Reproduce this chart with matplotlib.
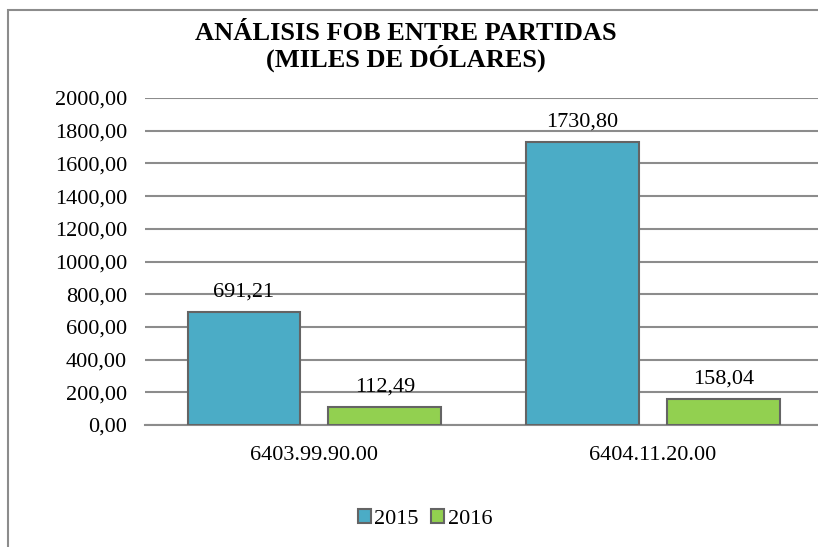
import matplotlib.pyplot as plt
import matplotlib.patches as mpatches
import numpy as np

################################################################
# Data

categories = ['6403.99.90.00', '6404.11.20.00']
years = ['2015', '2016']
fob_2015 = [691.21, 1730.80]
fob_2016 = [112.49, 158.04]
yticks = np.arange(0, 2001, 200)

C15, C16 = '#4BACC6', '#92D050'
EDGE, GRID = '#646464', '#8C8C8C'
FS = 16

plt.rcParams['font.family'] = ['Liberation Serif', 'DejaVu Serif']

def fmt(v):
    return ('%.2f' % v).replace('.', ',')

################################################################
# Plot

fig = plt.figure(figsize=(8.18, 5.47), dpi=100)
ax = fig.add_axes([145 / 818, 122 / 547, 673 / 818, 327 / 547])

x = np.arange(len(categories))
off, w = 0.208, 0.333
b1 = ax.bar(x - off, fob_2015, w, color=C15, edgecolor=EDGE, lw=1.5, zorder=3, label=years[0])
b2 = ax.bar(x + off, fob_2016, w, color=C16, edgecolor=EDGE, lw=1.5, zorder=3, label=years[1])

for bars, vals in [(b1, fob_2015), (b2, fob_2016)]:
    for b, v in zip(bars, vals):
        ax.annotate(fmt(v), (b.get_x() + b.get_width() / 2, v), xytext=(0, 11),
                    textcoords='offset points', ha='center', va='baseline', fontsize=FS)

ax.set_xlim(-0.5, 1.487)
ax.set_ylim(0, 2000)
ax.set_yticks(yticks)
ax.set_yticklabels([fmt(v) for v in yticks], fontsize=FS)
ax.set_xticks(x)
ax.set_xticklabels(categories, fontsize=FS)
ax.tick_params(axis='y', length=0, pad=13)
ax.tick_params(axis='x', length=0, pad=15)
ax.yaxis.grid(True, color=GRID, lw=1.5, zorder=0)
for s in ['top', 'right', 'left']:
    ax.spines[s].set_visible(False)
ax.spines['bottom'].set_color(GRID)
ax.spines['bottom'].set_linewidth(1.5)

fig.text(406 / 818, 1 - 47 / 547, 'ANÁLISIS FOB ENTRE PARTIDAS\n(MILES DE DÓLARES)',
         ha='center', va='center', fontsize=19, fontweight='bold', linespacing=1.02)

fig.legend(loc='center', bbox_to_anchor=(425 / 818, 1 - 519 / 547), ncol=2, frameon=False,
           fontsize=FS, handlelength=0.6, handleheight=0.6, handletextpad=0.15, columnspacing=0.55)

fig.patches.append(mpatches.Rectangle((8 / 818, -0.1), 1.2, 1.1 - 10 / 547,
                                      transform=fig.transFigure, fill=False,
                                      edgecolor=GRID, lw=1.5))

fig.savefig('out.png', dpi=100)
